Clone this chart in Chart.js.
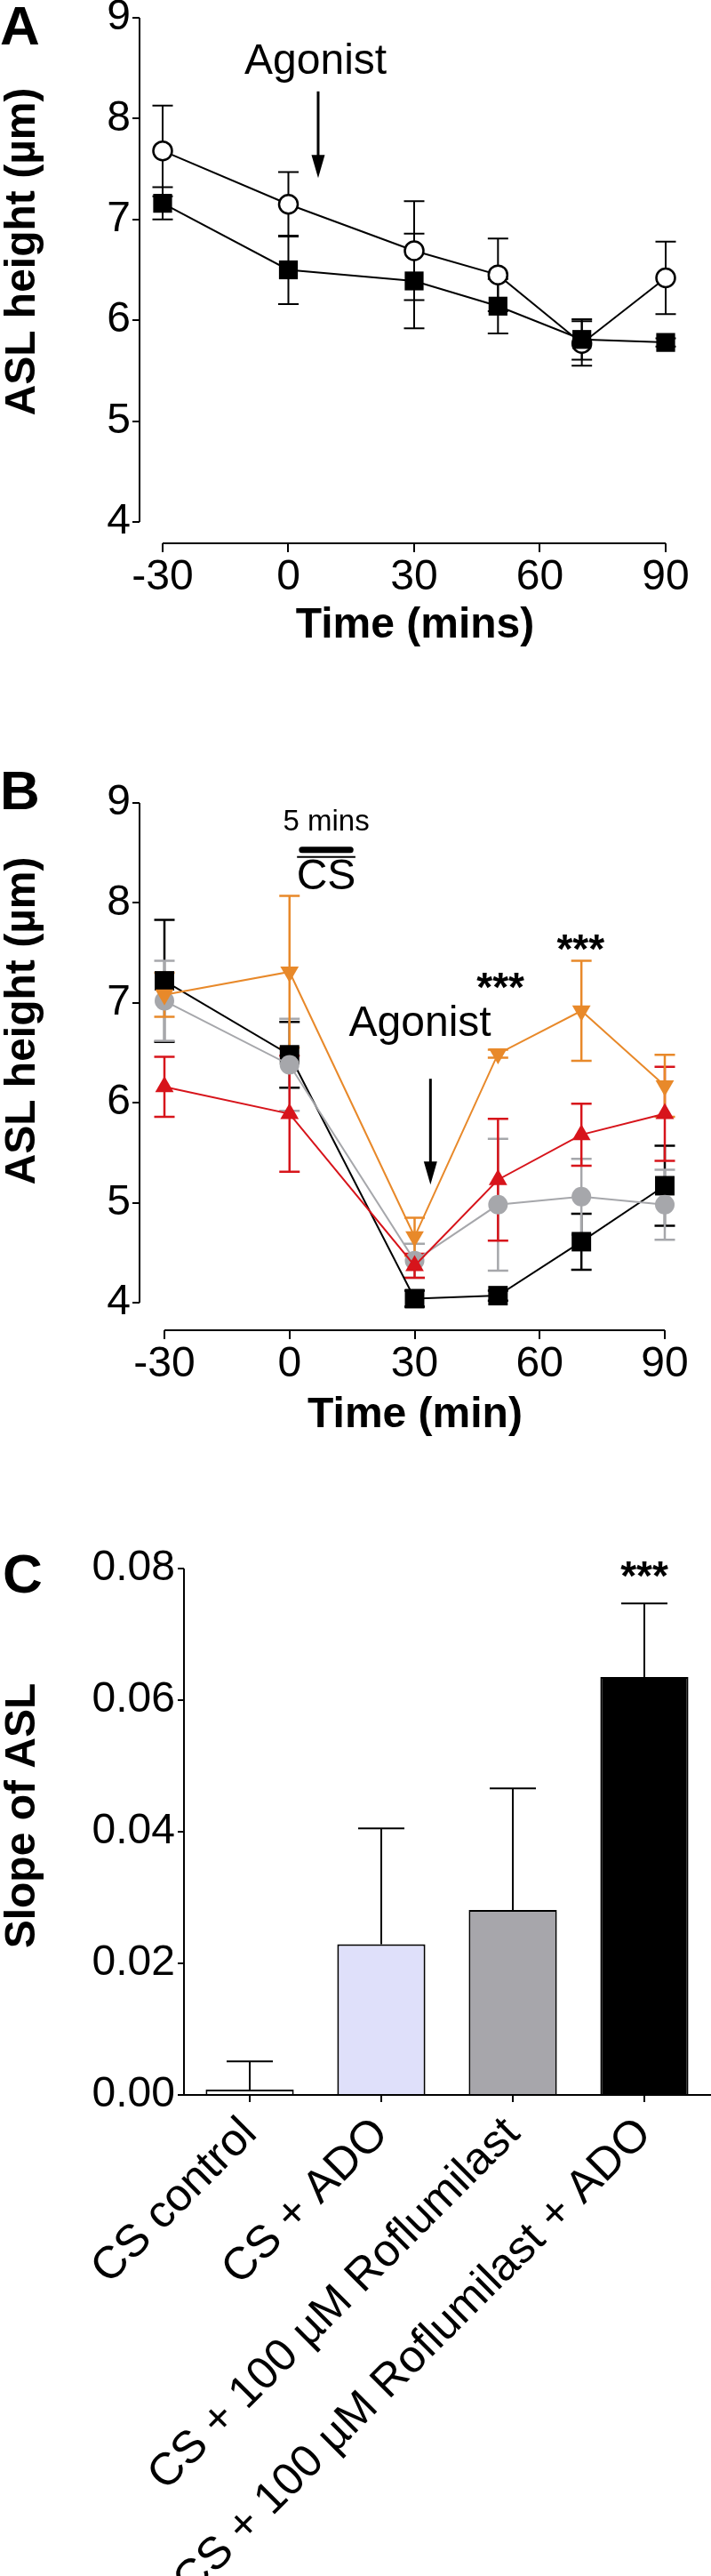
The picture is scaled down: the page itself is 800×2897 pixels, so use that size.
<!DOCTYPE html>
<html>
<head>
<meta charset="utf-8">
<title>ASL height and slope</title>
<script src="https://cdn.jsdelivr.net/npm/chart.js@4.4.1/dist/chart.umd.min.js"></script>
<style>
  body { margin: 0; background: #fff; }
  #page { position: relative; width: 800px; height: 2897px; overflow: hidden; background: #fff; }
  canvas { position: absolute; left: 0; }
</style>
</head>
<body>
<div id="page">
  <canvas id="chartA" width="800" height="760" style="top:0px"></canvas>
  <canvas id="chartB" width="800" height="800" style="top:850px"></canvas>
  <canvas id="chartC" width="800" height="1197" style="top:1700px"></canvas>
</div>
<script>
const FONT = "'Liberation Sans', Arial, Helvetica, sans-serif";

// ---- Panel A: ASL height over time (open circles vs filled squares)
const timeA = [-30, 0, 30, 50, 70, 90];
const openA = [7.68, 7.15, 6.69, 6.45, 5.77, 6.42];
const openErrA = [0.45, 0.32, 0.49, 0.36, 0.22, 0.36];
const filledA = [7.16, 6.50, 6.39, 6.14, 5.81, 5.78];
const filledErrA = [0.16, 0.34, 0.47, 0.27, 0.20, 0.04];

// ---- Panel B: ASL height after CS exposure
const timeB = [-30, 0, 30, 50, 70, 90];
const blackSquareB = [7.22, 6.48, 4.04, 4.07, 4.61, 5.17];
const blackSquareErrB = [0.61, 0.33, 0.08, 0.05, 0.28, 0.40];
const greyCircleB = [7.02, 6.38, 4.42, 4.98, 5.06, 4.98];
const greyCircleErrB = [0.40, 0.46, 0.17, 0.66, 0.38, 0.35];
const redTriangleB = [6.16, 5.89, 4.37, 5.23, 5.68, 5.89];
const redTriangleErrB = [0.30, 0.58, 0.12, 0.61, 0.31, 0.47];
const orangeTriangleB = [7.08, 7.31, 4.66, 6.49, 6.92, 6.17];
const orangeTriangleErrB = [0.22, 0.76, 0.19, 0.04, 0.50, 0.31];

// shared tick values for A and B
const timeTicks = [-30, 0, 30, 60, 90];
const heightTicks = [4, 5, 6, 7, 8, 9];

// ---- Panel C: slope of ASL
const groupsC = ['CS control', 'CS + ADO', 'CS + 100 \u00b5M Roflumilast', 'CS + 100 \u00b5M Roflumilast + ADO'];
const slopeC = [0.0008, 0.0229, 0.0281, 0.0635];
const slopeErrC = [0.0043, 0.0176, 0.0185, 0.0112];
const slopeTicks = [0, 0.02, 0.04, 0.06, 0.08];
const barFillC = ['#ffffff', '#dfe0fa', '#a7a6ab', '#000000'];

const pts = (xs, ys) => xs.map((x, i) => ({ x: x, y: ys[i] }));

// error bars, offset axes, titles and annotations in the GraphPad look
const prismLook = {
  id: 'prismLook',
  beforeDatasetsDraw(chart, args, o) {
    const ctx = chart.ctx;
    const ys = chart.scales.y;
    chart.data.datasets.forEach((ds, i) => {
      if (!ds.err) return;
      const meta = chart.getDatasetMeta(i);
      ctx.save();
      ctx.strokeStyle = ds.errColor || ds.borderColor;
      ctx.lineWidth = o.errWidth;
      meta.data.forEach((el, j) => {
        const raw = ds.data[j];
        const v = typeof raw === 'object' ? raw.y : raw;
        const hi = ys.getPixelForValue(v + ds.err[j]);
        const lo = o.upOnly ? el.y : ys.getPixelForValue(v - ds.err[j]);
        const half = o.capWidth / 2;
        ctx.beginPath();
        ctx.moveTo(el.x, hi);
        ctx.lineTo(el.x, lo);
        ctx.moveTo(el.x - half, hi);
        ctx.lineTo(el.x + half, hi);
        if (!o.upOnly) {
          ctx.moveTo(el.x - half, lo);
          ctx.lineTo(el.x + half, lo);
        }
        ctx.stroke();
      });
      ctx.restore();
    });
  },
  afterDraw(chart, args, o) {
    const ctx = chart.ctx;
    const a = chart.chartArea;
    const xs = chart.scales.x;
    const ys = chart.scales.y;
    ctx.save();
    ctx.strokeStyle = '#000';
    ctx.fillStyle = '#000';
    ctx.lineWidth = 2;

    // axis lines
    const yt = ys.ticks;
    ctx.beginPath();
    ctx.moveTo(a.left, ys.getPixelForValue(yt[yt.length - 1].value));
    ctx.lineTo(a.left, ys.getPixelForValue(yt[0].value));
    if (o.fullXAxis) {
      ctx.moveTo(a.left - 7, a.bottom);
      ctx.lineTo(chart.width, a.bottom);
    } else {
      const xt = xs.ticks;
      ctx.moveTo(xs.getPixelForValue(xt[0].value), a.bottom);
      ctx.lineTo(xs.getPixelForValue(xt[xt.length - 1].value), a.bottom);
    }
    ctx.stroke();

    // axis titles
    ctx.font = 'bold 48px ' + FONT;
    ctx.textAlign = 'center';
    ctx.textBaseline = 'middle';
    if (o.yTitle) {
      ctx.save();
      ctx.translate(o.yTitle.x, o.yTitle.y);
      ctx.rotate(-Math.PI / 2);
      ctx.fillText(o.yTitle.text, 0, 0);
      ctx.restore();
    }
    if (o.xTitle) ctx.fillText(o.xTitle.text, o.xTitle.x, o.xTitle.y);

    // panel letter
    ctx.font = 'bold 62px ' + FONT;
    ctx.textAlign = 'left';
    ctx.textBaseline = 'alphabetic';
    ctx.fillText(o.letter.text, o.letter.x, o.letter.y);

    // text notes (data coordinates)
    (o.notes || []).forEach(n => {
      ctx.font = (n.bold ? 'bold ' : '') + n.size + 'px ' + FONT;
      ctx.textAlign = 'center';
      ctx.textBaseline = 'alphabetic';
      ctx.fillText(n.text, xs.getPixelForValue(n.x), ys.getPixelForValue(n.y));
    });

    // horizontal rules (CS bar, overline)
    (o.rules || []).forEach(r => {
      ctx.lineWidth = r.width;
      ctx.lineCap = r.round ? 'round' : 'butt';
      ctx.beginPath();
      const y = ys.getPixelForValue(r.y);
      ctx.moveTo(xs.getPixelForValue(r.from), y);
      ctx.lineTo(xs.getPixelForValue(r.to), y);
      ctx.stroke();
    });
    ctx.lineCap = 'butt';

    // downward arrows
    (o.arrows || []).forEach(r => {
      const x = xs.getPixelForValue(r.x);
      const y0 = ys.getPixelForValue(r.from);
      const y1 = ys.getPixelForValue(r.to);
      ctx.lineWidth = 3;
      ctx.beginPath();
      ctx.moveTo(x, y0);
      ctx.lineTo(x, y1 - 20);
      ctx.stroke();
      ctx.beginPath();
      ctx.moveTo(x - 7.5, y1 - 26);
      ctx.lineTo(x + 7.5, y1 - 26);
      ctx.lineTo(x, y1);
      ctx.closePath();
      ctx.fill();
    });
    ctx.restore();
  }
};
Chart.register(prismLook);

function tickFont(size) {
  return { family: FONT, size: size || 48 };
}

function timeOptions(cfg) {
  return {
    responsive: false,
    animation: false,
    devicePixelRatio: 1,
    events: [],
    layout: { padding: cfg.padding },
    plugins: {
      legend: { display: false },
      tooltip: { enabled: false },
      prismLook: cfg.look
    },
    scales: {
      x: {
        type: 'linear',
        min: cfg.xMin,
        max: 90,
        afterBuildTicks: s => { s.ticks = timeTicks.map(v => ({ value: v })); },
        afterFit: s => { s.height = cfg.xHeight; s.paddingLeft = 0; s.paddingRight = 0; },
        border: { display: false },
        grid: { drawOnChartArea: false, drawTicks: true, tickLength: 10, color: '#000', lineWidth: 2 },
        ticks: { color: '#000', font: tickFont(), padding: 0, maxRotation: 0, autoSkip: false, callback: v => String(v) }
      },
      y: {
        type: 'linear',
        min: cfg.yMin,
        max: 9,
        afterBuildTicks: s => { s.ticks = heightTicks.map(v => ({ value: v })); },
        afterFit: s => { s.width = 157; s.paddingTop = 0; s.paddingBottom = 0; },
        border: { display: false },
        grid: { drawOnChartArea: false, drawTicks: true, tickLength: 8, color: '#000', lineWidth: 2 },
        ticks: { color: '#000', font: tickFont(), padding: 2, callback: v => String(v) }
      }
    }
  };
}

// ---------- Panel A
new Chart(document.getElementById('chartA'), {
  type: 'line',
  data: {
    datasets: [
      {
        data: pts(timeA, openA), err: openErrA, order: 2, clip: false,
        borderColor: '#000', borderWidth: 2, tension: 0,
        pointStyle: 'circle', pointRadius: 10.5,
        pointBackgroundColor: '#fff', pointBorderColor: '#000', pointBorderWidth: 2.5
      },
      {
        data: pts(timeA, filledA), err: filledErrA, order: 1, clip: false,
        borderColor: '#000', borderWidth: 2, tension: 0,
        pointStyle: 'rect', pointRadius: 15,
        pointBackgroundColor: '#000', pointBorderColor: '#000', pointBorderWidth: 0
      }
    ]
  },
  options: timeOptions({
    padding: { left: 0, top: 20, right: 51, bottom: 0 },
    xMin: -35.51, yMin: 3.788, xHeight: 149,
    look: {
      errWidth: 2, capWidth: 23,
      yTitle: { text: 'ASL height (\u00b5m)', x: 26, y: 283 },
      xTitle: { text: 'Time (mins)', x: 467, y: 704 },
      letter: { text: 'A', x: 0, y: 50 },
      notes: [{ text: 'Agonist', x: 6.5, y: 8.44, size: 48 }],
      arrows: [{ x: 7.1, from: 8.27, to: 7.41 }]
    }
  })
});

// ---------- Panel B
function seriesB(values, errs, color, style, radius, rotation, order) {
  return {
    data: pts(timeB, values), err: errs, order: order, clip: false,
    borderColor: color, borderWidth: 2, tension: 0,
    pointStyle: style, pointRadius: radius, pointRotation: rotation,
    pointBackgroundColor: color, pointBorderColor: color, pointBorderWidth: 0
  };
}

new Chart(document.getElementById('chartB'), {
  type: 'line',
  data: {
    datasets: [
      seriesB(blackSquareB, blackSquareErrB, '#000000', 'rect', 15.5, 0, 4),
      seriesB(greyCircleB, greyCircleErrB, '#a6a7ab', 'circle', 11, 0, 3),
      seriesB(redTriangleB, redTriangleErrB, '#d7141b', 'triangle', 12, 0, 2),
      seriesB(orangeTriangleB, orangeTriangleErrB, '#e8892a', 'triangle', 12, 180, 1)
    ]
  },
  options: timeOptions({
    padding: { left: 0, top: 53, right: 52, bottom: 0 },
    xMin: -35.97, yMin: 3.724, xHeight: 154,
    look: {
      errWidth: 2.5, capWidth: 23,
      yTitle: { text: 'ASL height (\u00b5m)', x: 26, y: 298 },
      xTitle: { text: 'Time (min)', x: 467, y: 742 },
      letter: { text: 'B', x: 0, y: 60 },
      notes: [
        { text: '5 mins', x: 8.8, y: 8.72, size: 33 },
        { text: 'CS', x: 8.8, y: 8.14, size: 48 },
        { text: '***', x: 50.6, y: 7.02, size: 46, bold: true },
        { text: '***', x: 69.8, y: 7.40, size: 46, bold: true },
        { text: 'Agonist', x: 31.3, y: 6.67, size: 48 }
      ],
      rules: [
        { from: 3.0, to: 14.6, y: 8.53, width: 7, round: true },
        { from: 1.8, to: 15.8, y: 8.46, width: 2 }
      ],
      arrows: [{ x: 33.8, from: 6.24, to: 5.18 }]
    }
  })
});

// ---------- Panel C
new Chart(document.getElementById('chartC'), {
  type: 'bar',
  data: {
    labels: groupsC,
    datasets: [{
      data: slopeC, err: slopeErrC, errColor: '#000',
      backgroundColor: barFillC, borderColor: '#000', borderWidth: 2,
      barPercentage: 0.67, categoryPercentage: 1
    }]
  },
  options: {
    responsive: false,
    animation: false,
    devicePixelRatio: 1,
    events: [],
    layout: { padding: { left: 0, top: 64, right: 1, bottom: 0 } },
    plugins: {
      legend: { display: false },
      tooltip: { enabled: false },
      prismLook: {
        errWidth: 2, capWidth: 52, upOnly: true, fullXAxis: true,
        yTitle: { text: 'Slope of ASL', x: 26, y: 342 },
        letter: { text: 'C', x: 3, y: 91 },
        notes: [{ text: '***', x: 3, y: 0.0768, size: 46, bold: true }]
      }
    },
    scales: {
      x: {
        afterFit: s => { s.height = 541; s.paddingLeft = 0; s.paddingRight = 0; },
        border: { display: false },
        grid: { offset: false, drawOnChartArea: false, drawTicks: true, tickLength: 8, color: '#000', lineWidth: 2 },
        ticks: { color: '#000', font: tickFont(51), padding: 6, minRotation: 45, maxRotation: 45, autoSkip: false }
      },
      y: {
        min: 0,
        max: 0.08,
        afterBuildTicks: s => { s.ticks = slopeTicks.map(v => ({ value: v })); },
        afterFit: s => { s.width = 207; s.paddingTop = 0; s.paddingBottom = 0; },
        border: { display: false },
        grid: { drawOnChartArea: false, drawTicks: true, tickLength: 7, color: '#000', lineWidth: 2 },
        ticks: { color: '#000', font: tickFont(), padding: 3, callback: v => Number(v).toFixed(2) }
      }
    }
  }
});
</script>
</body>
</html>
